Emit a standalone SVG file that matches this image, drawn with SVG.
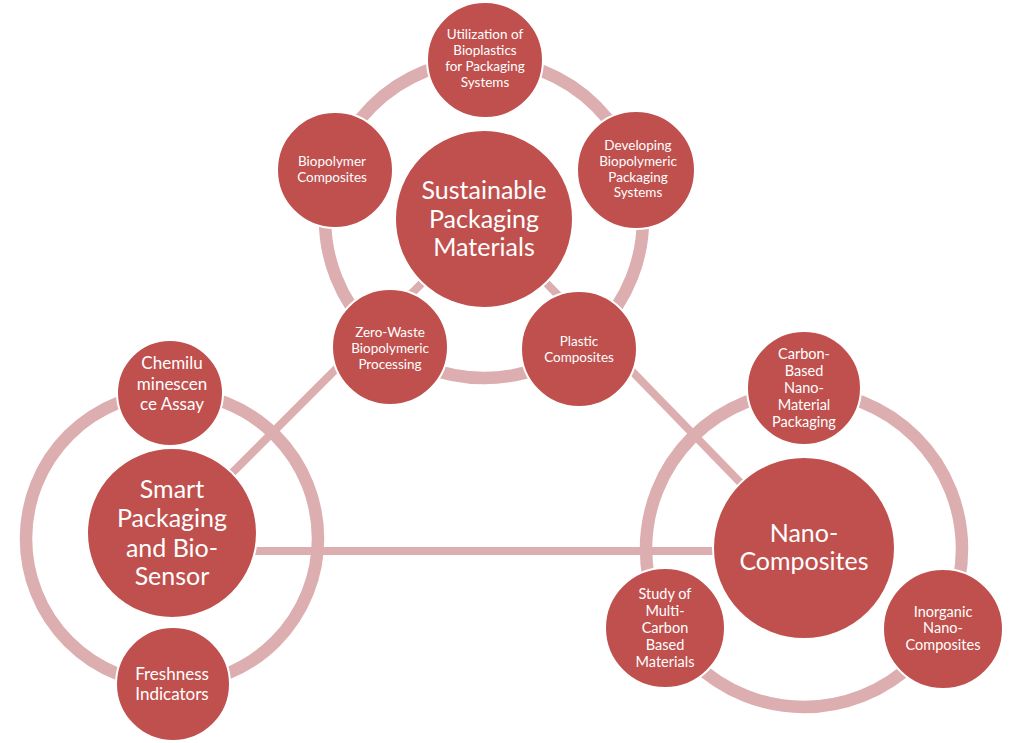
<svg xmlns="http://www.w3.org/2000/svg" width="1024" height="743" viewBox="0 0 1024 743">
<style>
.ring{fill:none;stroke:#DCAEAF;stroke-width:12.5}
.conn{stroke:#DCAEAF;stroke-width:8;fill:none}
.node{fill:#C0504D;stroke:#FFFFFF;stroke-width:2}
text{font-family:Lato,"Liberation Sans",sans-serif;fill:#FFFFFF;text-anchor:middle}
.big{font-size:25px}
.sm{font-size:13.5px}
.md{font-size:14.5px}
.lg{font-size:17px}
</style>
<rect width="1024" height="743" fill="#FFFFFF"/>
<g id="connectors">
<line class="conn" x1="172" y1="533" x2="484" y2="221"/>
<line class="conn" x1="804" y1="548" x2="484" y2="219"/>
<line class="conn" x1="172" y1="551" x2="804" y2="551"/>
</g>
<g id="rings">
<circle class="ring" cx="484" cy="219" r="159"/>
<circle class="ring" cx="172" cy="538.5" r="146"/>
<circle class="ring" cx="804" cy="549" r="158"/>
</g>
<g id="sustainable">
<circle class="node" cx="484" cy="219" r="89"/>
<text class="big"><tspan x="484" y="199">Sustainable</tspan><tspan x="484" y="228">Packaging</tspan><tspan x="484" y="256">Materials</tspan></text>
</g>
<g id="utilization">
<circle class="node" cx="485" cy="60" r="58"/>
<text class="sm"><tspan x="485" y="39">Utilization of</tspan><tspan x="485" y="55">Bioplastics</tspan><tspan x="485" y="71">for Packaging</tspan><tspan x="485" y="87">Systems</tspan></text>
</g>
<g id="developing">
<circle class="node" cx="636" cy="170" r="59"/>
<text class="sm"><tspan x="638" y="150">Developing</tspan><tspan x="638" y="166">Biopolymeric</tspan><tspan x="638" y="182">Packaging</tspan><tspan x="638" y="197">Systems</tspan></text>
</g>
<g id="biopolymer">
<circle class="node" cx="335" cy="170" r="58"/>
<text class="sm"><tspan x="332" y="166">Biopolymer</tspan><tspan x="332" y="182">Composites</tspan></text>
</g>
<g id="zerowaste">
<circle class="node" cx="390" cy="347" r="58"/>
<text class="sm"><tspan x="390" y="337">Zero-Waste</tspan><tspan x="390" y="353">Biopolymeric</tspan><tspan x="390" y="369">Processing</tspan></text>
</g>
<g id="plastic">
<circle class="node" cx="579" cy="349" r="58"/>
<text class="sm"><tspan x="579" y="346">Plastic</tspan><tspan x="579" y="362">Composites</tspan></text>
</g>
<g id="smart">
<circle class="node" cx="172" cy="533" r="85"/>
<text class="big"><tspan x="172" y="498">Smart</tspan><tspan x="172" y="527">Packaging</tspan><tspan x="172" y="557">and Bio-</tspan><tspan x="172" y="585">Sensor</tspan></text>
</g>
<g id="chemilu">
<circle class="node" cx="170" cy="393" r="53"/>
<text class="lg"><tspan x="172" y="369">Chemilu</tspan><tspan x="172" y="390">minescen</tspan><tspan x="172" y="410">ce Assay</tspan></text>
</g>
<g id="freshness">
<circle class="node" cx="173" cy="684" r="57"/>
<text class="lg"><tspan x="172" y="680">Freshness</tspan><tspan x="172" y="700">Indicators</tspan></text>
</g>
<g id="nano">
<circle class="node" cx="804" cy="548" r="91"/>
<text class="big"><tspan x="804" y="542">Nano-</tspan><tspan x="804" y="570">Composites</tspan></text>
</g>
<g id="carbon">
<circle class="node" cx="804" cy="388" r="57"/>
<text class="md"><tspan x="804" y="359">Carbon-</tspan><tspan x="804" y="376">Based</tspan><tspan x="804" y="393">Nano-</tspan><tspan x="804" y="410">Material</tspan><tspan x="804" y="427">Packaging</tspan></text>
</g>
<g id="inorganic">
<circle class="node" cx="943" cy="629" r="60"/>
<text class="md"><tspan x="943" y="617">Inorganic</tspan><tspan x="943" y="633">Nano-</tspan><tspan x="943" y="650">Composites</tspan></text>
</g>
<g id="study">
<circle class="node" cx="665" cy="628" r="60"/>
<text class="md"><tspan x="665" y="599">Study of</tspan><tspan x="665" y="616">Multi-</tspan><tspan x="665" y="633">Carbon</tspan><tspan x="665" y="650">Based</tspan><tspan x="665" y="667">Materials</tspan></text>
</g>
</svg>
